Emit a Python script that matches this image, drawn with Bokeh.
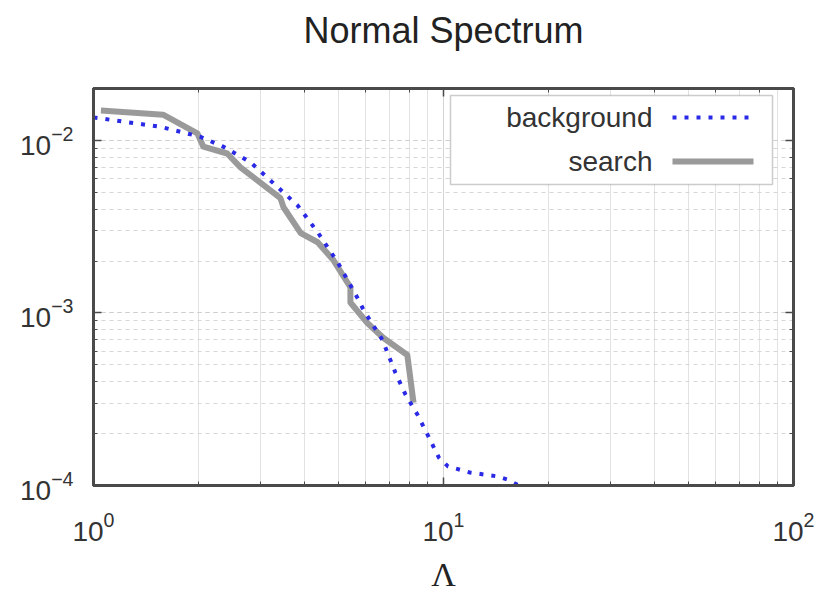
from bokeh.plotting import figure
from bokeh.models import (LogAxis, Label, BoxAnnotation, Arrow, CustomJSTickFormatter, Range1d, Title)
from bokeh.embed import file_html
from bokeh.resources import INLINE

# ---- data ----
bg_lambda = [1.0, 1.55, 2.02, 2.35, 2.81, 3.27, 3.83, 4.39, 4.98, 5.72, 5.91, 6.69,
             7.29, 7.79, 8.43, 9.06, 9.7, 10.3, 11.9, 14.2, 15.3, 16.4]
bg_rate = [0.0136, 0.012, 0.0105, 0.0092, 0.00747, 0.00564, 0.0042, 0.0029, 0.00197,
           0.00119, 0.00104, 0.000698, 0.00045, 0.000336, 0.000257, 0.000192,
           0.000145, 0.000129, 0.000119, 0.000113, 0.000108, 0.0001]

search_lambda = [1.05, 1.58, 1.98, 2.06, 2.41, 2.63, 2.94, 3.42, 3.49, 3.91, 4.37,
                 4.85, 5.42, 5.42, 6.06, 6.74, 7.88, 8.21]
search_rate = [0.0149, 0.0141, 0.011, 0.0092, 0.0084, 0.00698, 0.00587, 0.00463,
               0.0041, 0.0029, 0.00257, 0.00202, 0.00141, 0.00115, 0.000875,
               0.000716, 0.000571, 0.000302]

title_text = "Normal Spectrum"
x_label = "\u039b"
series_labels = ["background", "search"]

FONT = "Liberation Sans"
AX = "#4a4a4a"
BLUE = "#2a2ae6"
GRAY = "#9a9a9a"

p = figure(width=818, height=595, x_axis_type="log", y_axis_type="log",
           x_range=Range1d(1, 100), y_range=Range1d(1e-4, 2e-2),
           output_backend="svg", toolbar_location=None,
           min_border_left=93, min_border_right=25, min_border_top=88,
           min_border_bottom=109)
p.background_fill_color = "white"
p.border_fill_color = "white"
p.outline_line_color = AX
p.outline_line_width = 3

p.title.text = title_text
p.title.align = "center"
p.title.text_font = FONT
p.title.text_font_size = "36px"
p.title.text_font_style = "normal"
p.title.text_color = "#222222"
p.title.standoff = 0

for ax in (p.xaxis[0], p.yaxis[0]):
    ax.major_label_text_font = FONT
    ax.major_label_text_font_size = "28px"
    ax.major_label_text_color = "#333333"
    ax.axis_line_color = AX
    ax.axis_line_width = 3
    ax.major_tick_in = 8
    ax.major_tick_out = 0
    ax.minor_tick_in = 4
    ax.minor_tick_out = 0
    ax.major_tick_line_color = AX
    ax.minor_tick_line_color = AX
    ax.major_tick_line_width = 1.5
    ax.minor_tick_line_width = 1

p.xaxis.major_label_standoff = 26
p.yaxis.major_label_standoff = 20
p.xaxis.axis_label = x_label
p.xaxis.axis_label_text_font = "Liberation Serif"
p.xaxis.axis_label_text_font_style = "normal"
p.xaxis.axis_label_text_font_size = "34px"
p.xaxis.axis_label_text_color = "#222222"
p.xaxis.axis_label_standoff = 12

# mirrored axes (ticks only)
for loc in ("above", "right"):
    a = LogAxis(formatter=CustomJSTickFormatter(code="return ''"),
                major_label_text_font_size="1px", major_label_standoff=0,
                axis_line_color=AX, axis_line_width=3,
                major_tick_in=8, major_tick_out=0, minor_tick_in=4, minor_tick_out=0,
                major_tick_line_color=AX, minor_tick_line_color=AX,
                major_tick_line_width=1.5, minor_tick_line_width=1)
    p.add_layout(a, loc)

# spacer between the top of the frame and the title
p.add_layout(Title(text=" ", text_font_size="1px", standoff=35), "above")

p.xgrid.grid_line_color = "#d4d4d4"
p.xgrid.minor_grid_line_color = "#e2e2e2"
p.ygrid.grid_line_color = "#cfcfcf"
p.ygrid.grid_line_dash = "4 4"
p.ygrid.minor_grid_line_color = "#d6d6d6"
p.ygrid.minor_grid_line_dash = "4 4"

p.line(search_lambda, search_rate, line_color=GRAY, line_width=6, line_join="round")
p.line(bg_lambda, bg_rate, line_color=BLUE, line_width=4, line_dash="4 8")

# custom legend (label left, sample right)
p.add_layout(BoxAnnotation(left=357, right=679, top=390, bottom=301,
                           left_units="screen", right_units="screen",
                           top_units="screen", bottom_units="screen",
                           fill_color="white", fill_alpha=1.0,
                           line_color="#555555", line_width=1.5))
for lab, yy, col, lw, dash in [(series_labels[0], 368, BLUE, 4, "4 8"),
                               (series_labels[1], 324, GRAY, 6, "solid")]:
    p.add_layout(Label(x=559, y=yy, x_units="screen", y_units="screen", text=lab,
                       text_align="right", text_baseline="middle", text_font=FONT,
                       text_font_size="28px", text_color="#333333"))
    p.add_layout(Arrow(x_start=579, y_start=yy, x_end=660, y_end=yy,
                       start_units="screen", end_units="screen", end=None,
                       line_color=col, line_width=lw, line_dash=dash))

open("out.html", "w").write(file_html(p, INLINE))
